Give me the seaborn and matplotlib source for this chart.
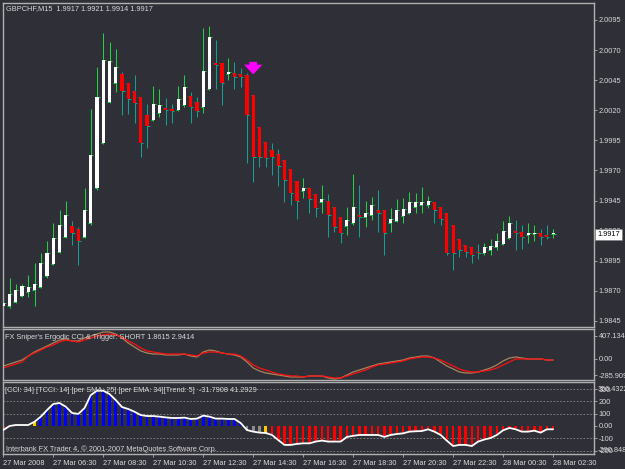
import numpy as np
import pandas as pd
import seaborn as sns
import matplotlib.pyplot as plt

# GBPCHF M15 bars
opens = [1.9857, 1.9857, 1.9861, 1.9866, 1.9869, 1.9871, 1.9873, 1.9882, 1.9892, 1.9902,
         1.9915, 1.9924, 1.9921, 1.9915, 1.9926, 1.9955, 1.9993, 2.0027, 2.0043, 2.0050,
         2.0043, 2.0036, 2.0031, 2.0016, 2.0012, 2.0018, 2.0022, 2.0021, 2.0020, 2.0024,
         2.0032, 2.0027, 2.0023, 2.0038, 2.0059, 2.0059, 2.0050, 2.0051, 2.0050, 2.0049,
         2.0033, 2.0006, 1.9994, 1.9987, 1.9984, 1.9979, 1.9971, 1.9961, 1.9953, 1.9955,
         1.9950, 1.9944, 1.9945, 1.9940, 1.9931, 1.9924, 1.9926, 1.9933, 1.9931, 1.9933,
         1.9937, 1.9937, 1.9926, 1.9928, 1.9932, 1.9935, 1.9940, 1.9941, 1.9941, 1.9944,
         1.9940, 1.9935, 1.9925, 1.9913, 1.9908, 1.9906, 1.9902, 1.9901, 1.9904, 1.9906,
         1.9909, 1.9914, 1.9920, 1.9919, 1.9916, 1.9917, 1.9918, 1.9916, 1.9917]
highs = [1.9866, 1.9881, 1.9876, 1.9876, 1.9883, 1.9893, 1.9901, 1.9911, 1.9926, 1.9937,
         1.9945, 1.9928, 1.9923, 1.9955, 2.0021, 2.0056, 2.0084, 2.0077, 2.0071, 2.0052,
         2.0043, 2.0049, 2.0031, 2.0025, 2.0040, 2.0038, 2.0030, 2.0025, 2.0040, 2.0049,
         2.0035, 2.0031, 2.0088, 2.0090, 2.0078, 2.0059, 2.0063, 2.0060, 2.0055, 2.0051,
         2.0033, 2.0006, 1.9994, 1.9993, 1.9988, 1.9979, 1.9971, 1.9961, 1.9964, 1.9956,
         1.9950, 1.9958, 1.9950, 1.9940, 1.9931, 1.9940, 1.9967, 1.9958, 1.9945, 1.9948,
         1.9954, 1.9937, 1.9939, 1.9946, 1.9947, 1.9952, 1.9951, 1.9956, 1.9949, 1.9944,
         1.9940, 1.9935, 1.9925, 1.9913, 1.9908, 1.9906, 1.9909, 1.9910, 1.9913, 1.9918,
         1.9928, 1.9932, 1.9929, 1.9925, 1.9926, 1.9925, 1.9921, 1.9925, 1.9921]
lows = [1.9852, 1.9856, 1.9860, 1.9865, 1.9865, 1.9857, 1.9872, 1.9881, 1.9891, 1.9901,
        1.9914, 1.9908, 1.9891, 1.9914, 1.9925, 1.9954, 1.9992, 2.0026, 2.0035, 2.0016,
        2.0017, 2.0009, 1.9981, 1.9989, 2.0011, 2.0014, 2.0008, 2.0009, 2.0019, 2.0023,
        2.0009, 2.0014, 2.0018, 2.0037, 2.0038, 2.0024, 2.0045, 2.0038, 2.0039, 1.9976,
        1.9960, 1.9973, 1.9973, 1.9966, 1.9957, 1.9944, 1.9941, 1.9930, 1.9947, 1.9935,
        1.9931, 1.9935, 1.9915, 1.9919, 1.9910, 1.9916, 1.9925, 1.9915, 1.9923, 1.9929,
        1.9919, 1.9900, 1.9919, 1.9927, 1.9926, 1.9934, 1.9935, 1.9935, 1.9939, 1.9926,
        1.9925, 1.9900, 1.9887, 1.9898, 1.9898, 1.9893, 1.9896, 1.9900, 1.9900, 1.9904,
        1.9908, 1.9913, 1.9904, 1.9905, 1.9910, 1.9911, 1.9908, 1.9913, 1.9914]
closes = [1.9860, 1.9867, 1.9871, 1.9874, 1.9873, 1.9876, 1.9893, 1.9901, 1.9914, 1.9925,
          1.9933, 1.9918, 1.9911, 1.9937, 1.9983, 2.0031, 2.0062, 2.0061, 2.0056, 2.0036,
          2.0029, 2.0026, 1.9993, 2.0007, 2.0025, 2.0024, 2.0020, 2.0019, 2.0029, 2.0039,
          2.0023, 2.0019, 2.0053, 2.0081, 2.0058, 2.0043, 2.0052, 2.0048, 2.0048, 2.0016,
          1.9981, 1.9981, 1.9980, 1.9981, 1.9974, 1.9962, 1.9951, 1.9945, 1.9955, 1.9946,
          1.9939, 1.9946, 1.9933, 1.9923, 1.9918, 1.9929, 1.9940, 1.9931, 1.9935, 1.9941,
          1.9935, 1.9918, 1.9930, 1.9937, 1.9938, 1.9944, 1.9944, 1.9944, 1.9945, 1.9937,
          1.9930, 1.9901, 1.9901, 1.9904, 1.9902, 1.9900, 1.9901, 1.9906, 1.9907, 1.9911,
          1.9920, 1.9926, 1.9918, 1.9915, 1.9918, 1.9918, 1.9915, 1.9915, 1.9917]

signal_bars = [40]

# FX Sniper's Ergodic CCI & Trigger
ergodic = [-124, -89, -53, -18, 53, 124, 177, 230, 283, 336, 354, 319, 319, 372, 407, 442, 478, 478,
           442, 372, 283, 212, 142, 106, 88, 88, 71, 71, 71, 88, 53, 35, 124, 159, 142, 106, 88, 71,
           35, -53, -159, -212, -248, -265, -283, -301, -319, -319, -319, -301, -301, -301, -336,
           -354, -336, -283, -230, -195, -159, -124, -89, -71, -53, -35, -18, 18, 35, 53, 53, 18,
           -53, -124, -177, -230, -248, -248, -230, -195, -159, -106, -35, 18, 35, 18, 0, 0, 0, -18, -18]
trigger = [-159, -124, -89, -53, 53, 106, 159, 212, 248, 301, 336, 319, 301, 336, 372, 407, 425, 442,
           425, 389, 319, 265, 195, 142, 124, 106, 88, 88, 88, 88, 71, 53, 106, 124, 124, 106, 88, 88,
           53, -18, -106, -159, -195, -230, -265, -283, -301, -301, -319, -301, -301, -301, -319,
           -336, -336, -301, -265, -230, -195, -142, -106, -89, -71, -53, -35, 0, 18, 35, 35, 18,
           -18, -71, -124, -177, -212, -230, -230, -212, -195, -159, -106, -53, 0, 0, 0, 0, 0, -18, -18]

# CCI histogram
cci = [-33, 0, 8, 8, 8, 35, 76, 130, 179, 187, 157, 106, 98, 146, 252, 287, 287, 260, 211, 154,
       138, 116, 89, 81, 81, 76, 70, 65, 65, 68, 57, 60, 84, 76, 60, 60, 57, 57, 24, -33,
       -46, -54, -57, -73, -114, -154, -154, -146, -141, -141, -127, -119, -127, -127, -127, -89,
       -80, -73, -73, -73, -73, -89, -73, -65, -60, -46, -43, -41, -27, -46, -73, -120, -163,
       -154, -154, -163, -127, -110, -98, -73, -35, -16, -27, -46, -46, -38, -54, -27, -27]
cci_state = list("r" + "nnnn" + "y" + "b" * 33 + "ggg" + "y" + "r" * 46)

price_ticks = [2.0095, 2.0070, 2.0045, 2.0020, 1.9995, 1.9970, 1.9945, 1.9920, 1.9895, 1.9870, 1.9845]
time_labels = ["27 Mar 2008", "27 Mar 06:30", "27 Mar 08:30", "27 Mar 10:30", "27 Mar 12:30",
               "27 Mar 14:30", "27 Mar 16:30", "27 Mar 18:30", "27 Mar 20:30", "27 Mar 22:30",
               "28 Mar 00:30", "28 Mar 02:30"]

bg = "#2f2f38"
fg = "#d8d8d8"
edge = "#b0b0b0"

sns.set_theme(style="dark", rc={"axes.facecolor": bg, "figure.facecolor": bg})
plt.rcParams["font.family"] = ["Liberation Sans", "DejaVu Sans"]
fs = 5.3

df = pd.DataFrame({"o": opens, "h": highs, "l": lows, "c": closes})
df["i"] = np.arange(len(df))
bull = df["c"] >= df["o"]

W, H = 625, 469
fig = plt.figure(figsize=(W / 100, H / 100), dpi=100)
ax1 = fig.add_axes([3 / W, 1 - 327 / H, 591 / W, 324 / H])
ax2 = fig.add_axes([3 / W, 1 - 380 / H, 591 / W, 51 / H])
ax3 = fig.add_axes([3 / W, 1 - 454 / H, 591 / W, 72 / H])

xlim = (-0.05, 94.55)

# main price chart
wick = np.where(bull, "#22d040", "#14a08c")
ax1.vlines(df["i"], df["l"], df["h"], colors=wick, lw=0.75, zorder=2)
ax1.hlines(df["o"], df["i"] - 0.4, df["i"], colors=wick, lw=0.7, zorder=2)
ax1.hlines(df["c"], df["i"], df["i"] + 0.4, colors=wick, lw=0.7, zorder=2)
body_lo = np.minimum(df["o"], df["c"])
body_h = np.maximum((df["c"] - df["o"]).abs(), 0.00009)
ax1.bar(df["i"], body_h, bottom=body_lo, width=0.5,
        color=np.where(bull, "#ffffff", "#ff0000"), linewidth=0, zorder=3)
for b in signal_bars:
    ax1.annotate("", xy=(b, highs[b] + 0.00145), xytext=(0, 13), textcoords="offset points",
                 arrowprops=dict(arrowstyle="simple,head_length=0.5,head_width=0.95,tail_width=0.4",
                                 color="#ff00ff", mutation_scale=14, lw=0), zorder=5)
ax1.set_xlim(*xlim)
ax1.set_ylim(1.98399, 2.01091)
ax1.set_yticks(price_ticks)
ax1.set_yticklabels([f"{p:.4f}" for p in price_ticks])
ax1.set_xticks([])
ax1.text(0.005, 0.993, "GBPCHF,M15  1.9917 1.9921 1.9914 1.9917", transform=ax1.transAxes,
         color=fg, fontsize=fs, va="top", ha="left")
ax1.annotate("1.9917", xy=(1, closes[-1]), xycoords=ax1.get_yaxis_transform(),
             xytext=(2.3, 0), textcoords="offset points", va="center", ha="left",
             fontsize=fs, color="black", zorder=10, annotation_clip=False,
             bbox=dict(boxstyle="square,pad=0.25", fc="white", ec="#808080", lw=0.5))

# ergodic cci panel
idx = np.arange(len(ergodic))
sns.lineplot(x=idx, y=ergodic, ax=ax2, color="#a8845c", lw=0.9)
sns.lineplot(x=idx, y=trigger, ax=ax2, color="#ff1010", lw=0.9)
ax2.set_xlim(*xlim)
ax2.set_ylim(-372, 531)
ax2.set_yticks([407.1343, 0, -285.909])
ax2.set_yticklabels(["407.1343", "0.00", "-285.909"])
ax2.set_xticks([])
ax2.text(0.004, 0.84, "FX Sniper's Ergodic CCI & Trigger: SHORT 1.8615 2.9414",
         transform=ax2.transAxes, color=fg, fontsize=fs, va="center", ha="left")

# cci histogram panel
state_col = {"r": "#ff0000", "b": "#0000ff", "g": "#8c8c8c", "y": "#ffc800", "n": "none"}
for lvl in [300, 200, 100, -100, -200]:
    ax3.axhline(lvl, color="#8a8a8a", lw=0.6, ls=(0, (2, 2)), zorder=1)
ax3.bar(idx, cci, width=0.42, color=[state_col[s] for s in cci_state], linewidth=0, zorder=2)
sns.lineplot(x=idx, y=cci, ax=ax3, color="white", lw=1.3, zorder=3)
ax3.set_xlim(*xlim)
ax3.set_ylim(-228, 358)
ax3.set_yticks([300, 200, 100, 0, -100, -200])
ax3.set_yticklabels(["300", "200", "100", "0.00", "-100", "-200"])
ax3.text(1.0065, 300, "356.4322", transform=ax3.get_yaxis_transform(), color=fg,
         fontsize=fs, va="center", ha="left")
ax3.text(1.0065, -200, "-290.848", transform=ax3.get_yaxis_transform(), color=fg,
         fontsize=fs, va="center", ha="left")
ax3.text(0.004, 0.875, "[CCI: 34] [TCCI: 14] [per SMA: 25] [per EMA: 34][Trend: 5]  -31.7908 41.2929",
         transform=ax3.transAxes, color=fg, fontsize=fs, va="center", ha="left")
ax3.text(0.005, 0.07, "Interbank FX Trader 4, \u00a9 2001-2007 MetaQuotes Software Corp.",
         transform=ax3.transAxes, color=fg, fontsize=fs, va="center", ha="left")
ax3.set_xticks(np.arange(0, 89, 8))
ax3.set_xticklabels(time_labels, ha="left")

for ax in (ax1, ax2, ax3):
    ax.yaxis.tick_right()
    ax.tick_params(axis="y", right=True, left=False, length=2, width=0.6, pad=1.5,
                   colors=edge, labelcolor=fg, labelsize=fs)
    ax.tick_params(axis="x", bottom=True, length=2.5, width=0.6, pad=2,
                   colors=edge, labelcolor=fg, labelsize=fs)
    ax.grid(False)
    for s in ax.spines.values():
        s.set_visible(True)
        s.set_color(edge)
        s.set_linewidth(1.0)
    ax.set_xlabel("")
    ax.set_ylabel("")

fig.savefig("out.png", dpi=100, facecolor=bg)
